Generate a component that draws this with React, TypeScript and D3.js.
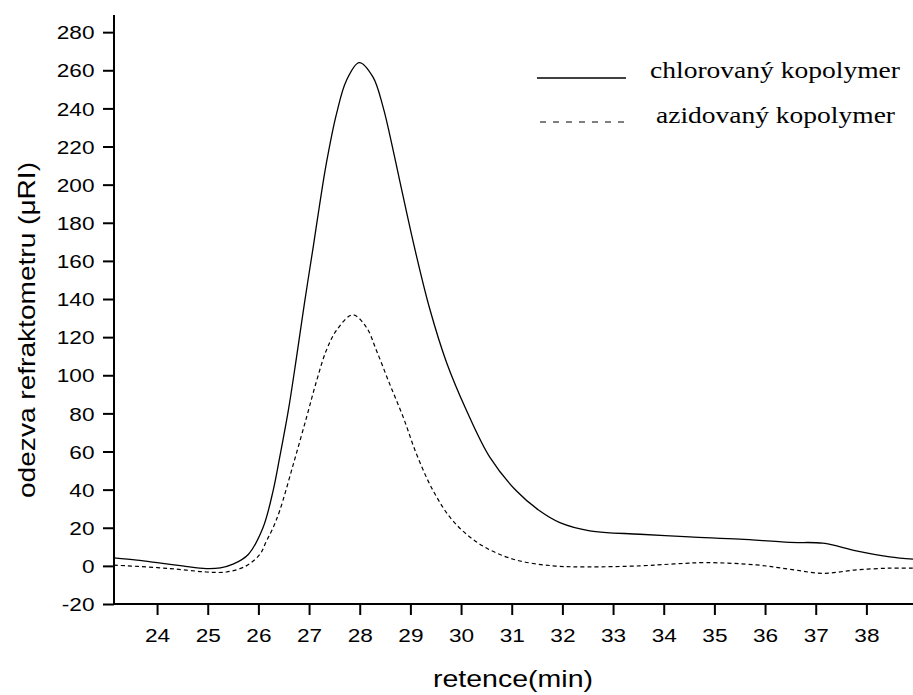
import { useEffect, useRef } from "react";
import * as d3 from "d3";

// chlorovaný kopolymer (solid)
const chlorTime = [23.15, 23.6, 24.0, 24.5, 24.97, 25.25, 25.5, 25.8, 26.09, 26.29, 26.42, 26.59, 26.75, 26.91, 27.08, 27.2, 27.34, 27.54, 27.74, 27.99, 28.26, 28.46, 28.66, 28.79, 29.09, 29.38, 29.71, 30.11, 30.57, 31.09, 31.55, 31.95, 32.54, 33.53, 34.51, 35.5, 36.49, 37.14, 37.8, 38.46, 38.92];
const chlorValue = [4.2, 3.0, 1.7, 0.0, -1.4, -1.0, 0.9, 6, 20, 39.4, 56.9, 81.4, 109, 138, 167, 188, 211, 237, 254.8, 264, 256.5, 240.8, 218, 202, 166, 135, 107, 81.4, 56.9, 39.4, 28.9, 22.7, 18.4, 16.6, 15.2, 14, 12.3, 11.9, 7.9, 4.7, 3.5];

// azidovaný kopolymer (dashed)
const azidTime = [23.15, 24.0, 24.5, 24.97, 25.37, 25.76, 26.03, 26.16, 26.29, 26.42, 26.69, 26.95, 27.15, 27.34, 27.54, 27.86, 28.13, 28.33, 28.59, 28.86, 29.12, 29.45, 29.84, 30.37, 31.03, 31.82, 32.5, 33.53, 34.2, 34.84, 35.83, 36.5, 37.14, 37.8, 38.46, 38.92];
const azidValue = [0.4, -0.9, -2.0, -3.2, -3.2, 0, 6.1, 13.1, 20, 28.9, 53.4, 77.9, 97.2, 113, 123.5, 131.7, 125.2, 113, 95.5, 77.9, 58.7, 39.4, 23.6, 11.4, 3.5, 0, -0.5, 0, 1.0, 1.7, 0.5, -1.8, -3.9, -2.1, -1.2, -1.2];

const xMajorTicks = [24, 25, 26, 27, 28, 29, 30, 31, 32, 33, 34, 35, 36, 37, 38];
const xMinorTicks = [23.5, 24.5, 25.5, 26.5, 27.5, 28.5, 29.5, 30.5, 31.5, 32.5, 33.5, 34.5, 35.5, 36.5, 37.5, 38.5];
const yMajorTicks = [-20, 0, 20, 40, 60, 80, 100, 120, 140, 160, 180, 200, 220, 240, 260, 280];
const yMinorTicks = [-10, 10, 30, 50, 70, 90, 110, 130, 150, 170, 190, 210, 230, 250, 270];

const legendLabels = ["chlorovaný kopolymer", "azidovaný kopolymer"];

export default function App() {
  const svgRef = useRef<SVGSVGElement>(null);

  useEffect(() => {
    const svg = d3.select(svgRef.current);
    svg.selectAll("*").remove();

    const width = 913;
    const height = 695;
    const left = 114;
    const right = 913;
    const top = 15;
    const bottom = 604;
    const sans = "'Liberation Sans', Arial, sans-serif";
    const serif = "'Liberation Serif', 'Times New Roman', serif";
    const stretch = 1.19;

    svg.attr("width", width).attr("height", height);

    const x = d3.scaleLinear().domain([23.15, 38.92]).range([left, right]);
    const y = d3.scaleLinear().domain([-20, 289]).range([bottom, top]);

    svg.append("defs")
      .append("clipPath")
      .attr("id", "plot-clip")
      .append("rect")
      .attr("x", left)
      .attr("y", top)
      .attr("width", right - left)
      .attr("height", bottom - top);

    const line = d3
      .line<[number, number]>()
      .x(d => x(d[0]))
      .y(d => y(d[1]))
      .curve(d3.curveCatmullRom.alpha(0.5));

    const chlor = chlorTime.map((t, i) => [t, chlorValue[i]] as [number, number]);
    const azid = azidTime.map((t, i) => [t, azidValue[i]] as [number, number]);

    const plot = svg.append("g").attr("clip-path", "url(#plot-clip)");
    plot.append("path")
      .datum(chlor)
      .attr("fill", "none")
      .attr("stroke", "#000")
      .attr("stroke-width", 1.3)
      .attr("d", line);
    plot.append("path")
      .datum(azid)
      .attr("fill", "none")
      .attr("stroke", "#000")
      .attr("stroke-width", 1.2)
      .attr("stroke-dasharray", "4,3")
      .attr("d", line);

    // X axis
    const gx = svg.append("g").attr("transform", `translate(0,${bottom})`);
    gx.call(d3.axisBottom(x).tickValues(xMinorTicks).tickSize(6).tickFormat(() => ""));
    gx.call(d3.axisBottom(x).tickValues(xMajorTicks).tickSize(11).tickFormat(d => `${d}`));
    gx.select(".domain").attr("d", `M${left},0H${right}`);
    gx.selectAll("path.domain, line").attr("stroke", "#000").attr("stroke-width", 2);
    gx.selectAll("text")
      .attr("y", 38.5)
      .attr("dy", 0)
      .attr("transform", `scale(${stretch},1)`)
      .style("font-family", sans)
      .style("font-size", "19px")
      .style("fill", "#000");

    // Y axis
    const gy = svg.append("g").attr("transform", `translate(${left},0)`);
    gy.call(d3.axisLeft(y).tickValues(yMinorTicks).tickSize(6).tickFormat(() => ""));
    gy.call(d3.axisLeft(y).tickValues(yMajorTicks).tickSize(11).tickFormat(d => `${d}`));
    gy.select(".domain").attr("d", `M0,${bottom}V${top}`);
    gy.selectAll("path.domain, line").attr("stroke", "#000").attr("stroke-width", 2);
    gy.selectAll("text")
      .attr("x", -19.5 / stretch)
      .attr("dy", "0.35em")
      .attr("transform", `scale(${stretch},1)`)
      .style("font-family", sans)
      .style("font-size", "19px")
      .style("fill", "#000");
    svg.selectAll(".domain").attr("fill", "none");

    // Axis titles
    svg.append("text")
      .attr("x", 513)
      .attr("y", 687)
      .attr("text-anchor", "middle")
      .attr("textLength", 160)
      .attr("lengthAdjust", "spacingAndGlyphs")
      .style("font-family", sans)
      .style("font-size", "24px")
      .text("retence(min)");

    svg.append("text")
      .attr("transform", "translate(35,330) rotate(-90)")
      .attr("text-anchor", "middle")
      .attr("textLength", 336)
      .attr("lengthAdjust", "spacingAndGlyphs")
      .style("font-family", sans)
      .style("font-size", "24px")
      .text("odezva refraktometru (μRI)");

    // Legend
    svg.append("line")
      .attr("x1", 537).attr("x2", 626)
      .attr("y1", 78).attr("y2", 78)
      .attr("stroke", "#000")
      .attr("stroke-width", 1.6);
    svg.append("text")
      .attr("x", 650)
      .attr("y", 78)
      .attr("textLength", 250)
      .attr("lengthAdjust", "spacingAndGlyphs")
      .style("font-family", serif)
      .style("font-size", "23px")
      .text(legendLabels[0]);

    svg.append("line")
      .attr("x1", 540).attr("x2", 628)
      .attr("y1", 122).attr("y2", 122)
      .attr("stroke", "#000")
      .attr("stroke-width", 1.2)
      .attr("stroke-dasharray", "6,7");
    svg.append("text")
      .attr("x", 656)
      .attr("y", 123)
      .attr("textLength", 239)
      .attr("lengthAdjust", "spacingAndGlyphs")
      .style("font-family", serif)
      .style("font-size", "23px")
      .text(legendLabels[1]);
  }, []);

  return (
    <svg
      ref={svgRef}
      style={{ position: "absolute", left: 0, top: 0, background: "#fff" }}
    />
  );
}
